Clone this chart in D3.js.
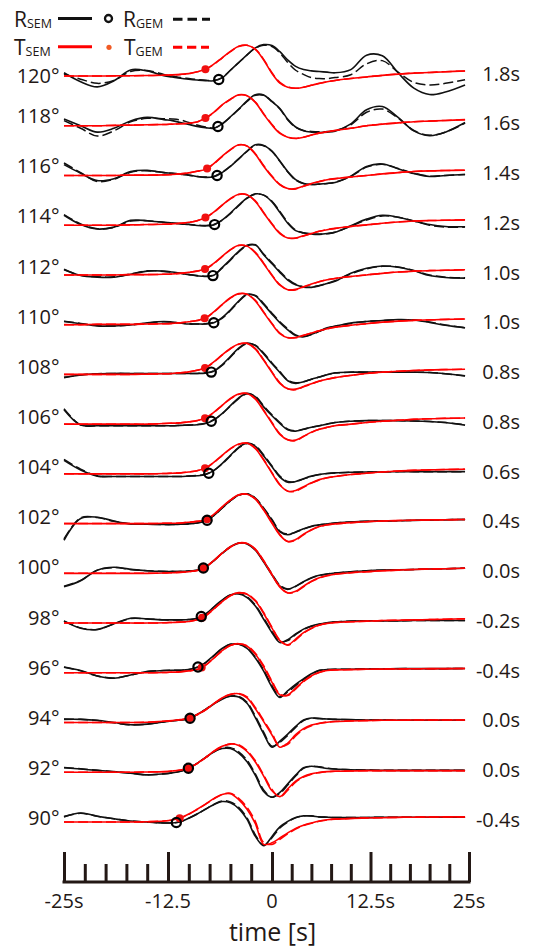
<!DOCTYPE html>
<html><head><meta charset="utf-8">
<script src="https://cdn.jsdelivr.net/npm/d3@7"></script>
<style>
body{margin:0;background:#fff}
svg{display:block}
text{font-family:"Open Sans",sans-serif;fill:#231815}
</style>
</head><body>
<svg id="chart" width="540" height="951"></svg>
<script>
// ---------------- data ----------------
const times = [-25,-23,-21,-19,-17,-15,-13,-12,-11,-10,-9,-8,-7,-6,-5,-4,-3,-2,-1,0,1,2,3,4,5,6,7,8,10,12,14,16,18,20,22,24.5];
const distances = [120,118,116,114,112,110,108,106,104,102,100,98,96,94,92,90];
const shiftLabels = ["1.8s","1.6s","1.4s","1.2s","1.0s","1.0s","0.8s","0.8s","0.6s","0.4s","0.0s","-0.2s","-0.4s","0.0s","0.0s","-0.4s"];
const rOnset = [-6.4,-6.5,-6.6,-6.9,-7.1,-7.0,-7.3,-7.3,-7.6,-7.8,-8.25,-8.5,-8.9,-9.85,-10.05,-11.5];
const tOnset = [-8.0,-8.0,-7.8,-8.0,-8.05,-8.1,-8.05,-8.05,-8.05,-7.8,-8.25,-8.4,-8.45,-9.85,-10.05,-11.1];

const R_SEM = [
[1.0,-1.8,-3.4,-1.5,1.9,1.6,0.1,-0.3,-0.7,-1.0,-1.25,-1.45,-1.5,-0.6,1.8,4.2,6.6,8.8,9.8,9.5,7.6,5.0,3.0,2.0,1.6,1.4,1.2,1.0,2.0,6.5,6.3,1.0,-3.8,-5.8,-5.0,-2.8],
[2.1,0.0,-2.0,-0.8,1.5,2.6,1.9,1.6,1.0,0.4,-0.2,-0.6,-0.8,0.6,2.8,5.2,7.8,9.7,9.6,7.5,5.4,2.0,-0.4,-1.6,-2.0,-2.1,-2.0,-1.7,0.6,5.0,6.0,2.6,-1.6,-3.1,-2.0,1.0],
[3.4,0.7,-1.6,-1.0,1.2,1.6,0.9,0.7,0.4,0.1,-0.3,-0.6,-0.4,0.9,2.8,5.2,7.6,9.6,9.4,7.6,4.5,1.2,-1.3,-2.5,-2.8,-2.7,-2.5,-2.2,-0.2,2.8,3.6,2.1,0.6,-0.3,0.0,0.3],
[3.1,0.2,-1.2,-0.6,1.5,1.4,0.9,0.7,0.4,0.2,-0.1,-0.2,0.1,1.6,3.8,6.3,8.5,9.8,9.4,7.3,4.0,0.6,-1.7,-2.4,-2.7,-2.8,-2.6,-2.2,-0.2,1.9,3.1,2.5,1.3,0.2,-0.4,-0.5],
[1.8,-0.2,-0.7,-0.7,0.2,1.2,1.2,0.9,0.5,0.1,-0.3,-0.5,-0.1,2.3,4.8,7.4,9.3,9.4,6.3,3.5,0.8,-1.6,-3.1,-3.8,-3.9,-3.4,-2.7,-2.0,0.5,2.1,2.8,2.4,1.3,-0.2,-0.8,-1.0],
[1.0,0.3,-0.4,-0.4,-0.1,0.6,1.0,0.8,0.5,0.2,0.2,0.2,0.6,2.2,4.6,7.4,9.5,9.0,6.3,3.3,0.6,-1.6,-3.4,-3.8,-3.0,-2.0,-1.0,-0.5,0.5,1.0,1.3,1.6,1.45,0.7,-0.2,-1.0],
[-1.0,-0.2,0.2,0.3,0.3,0.3,0.3,0.3,0.3,0.3,0.3,0.4,1.0,3.0,5.6,8.2,9.8,9.0,6.4,3.3,0.6,-2.0,-2.8,-2.3,-1.5,-0.8,-0.1,0.5,0.7,0.7,0.7,0.7,0.7,0.6,0.2,-0.5],
[4.5,-0.3,-0.5,-0.5,-0.5,-0.5,-0.5,-0.5,-0.4,-0.3,-0.2,0.2,1.3,3.3,5.8,8.2,9.6,8.5,5.4,2.6,0.2,-1.8,-2.2,-1.6,-1.0,-0.5,0.0,0.5,0.9,1.1,1.1,1.1,1.0,0.8,0.5,-0.3],
[4.2,1.2,-0.7,-0.8,-0.8,-0.8,-0.8,-0.8,-0.8,-0.7,-0.6,-0.2,1.0,3.2,5.8,8.3,9.6,8.6,5.6,2.2,-1.0,-2.6,-2.4,-1.5,-0.7,-0.2,0.1,0.3,0.5,0.6,0.6,0.7,0.7,0.7,0.7,0.7],
[-5.2,1.6,2.0,0.8,-0.1,-0.2,-0.3,-0.3,-0.2,-0.1,0.2,0.8,2.5,4.9,7.2,8.9,9.3,7.8,4.6,1.0,-2.6,-3.5,-2.6,-1.6,-0.8,-0.4,-0.1,0.2,0.5,0.7,0.8,0.9,1.0,1.1,1.2,1.3],
[-4.2,-2.3,1.0,1.9,1.25,0.8,0.6,0.6,0.6,0.7,1.0,2.0,4.0,6.3,8.3,9.5,9.2,7.2,3.5,-0.5,-4.0,-5.0,-4.0,-2.6,-1.4,-0.6,-0.2,0.1,0.5,0.8,1.0,1.1,1.2,1.35,1.45,1.6],
[0.6,-1.6,-2.0,-0.2,1.5,1.3,1.0,1.0,1.0,1.1,1.5,2.8,5.0,7.2,8.8,9.1,8.0,5.3,1.2,-3.0,-6.1,-5.2,-3.4,-1.9,-0.9,-0.3,0.1,0.4,0.6,0.7,0.7,0.7,0.8,0.8,0.8,0.8],
[1.8,0.7,-1.0,-1.7,-0.7,0.4,0.7,0.8,0.8,1.0,1.7,3.2,5.4,7.6,8.9,8.9,7.6,4.6,0.5,-4.5,-7.7,-5.6,-3.6,-1.9,-0.3,0.8,1.0,1.1,1.1,1.2,1.2,1.3,1.3,1.3,1.3,1.35],
[1.0,1.0,0.7,0.0,-0.7,-0.5,0.2,0.5,0.8,1.2,2.5,4.0,5.8,7.3,8.2,8.0,6.0,1.5,-3.5,-7.7,-5.8,-3.6,-1.2,0.8,1.4,1.2,1.1,1.0,0.9,0.8,0.8,0.7,0.7,0.7,0.7,0.7],
[1.4,1.0,0.6,0.2,-0.3,-0.8,-0.5,-0.2,0.3,1.3,2.8,4.6,6.3,7.4,7.4,6.0,3.3,-1.0,-6.0,-7.8,-6.3,-3.6,-0.9,1.4,1.9,1.6,1.2,1.0,0.8,0.7,0.6,0.6,0.6,0.6,0.6,0.6],
[1.6,2.8,1.8,1.0,0.3,0.0,-0.3,-0.3,0.1,1.2,2.5,4.0,5.4,6.4,6.0,4.2,0.8,-4.5,-7.4,-4.5,-1.5,0.2,1.4,1.9,1.9,1.6,1.5,1.4,1.4,1.4,1.5,1.5,1.5,1.5,1.5,1.5]
];

const R_GEM = [
[0.6,-1.0,-2.3,-1.4,1.4,1.7,0.5,0.0,-0.5,-0.8,-1.1,-1.3,-1.4,-0.5,1.8,4.2,6.6,8.7,9.6,9.2,7.2,4.2,1.8,0.5,-0.5,-0.8,-0.8,-0.5,0.4,3.8,4.8,1.2,-2.0,-2.8,-2.3,-1.2],
[1.6,-0.8,-3.2,-1.6,1.2,2.3,2.2,2.1,1.8,1.0,0.2,-0.4,-0.7,0.5,2.7,5.1,7.6,9.5,9.5,7.6,5.2,1.8,-0.5,-1.5,-1.8,-1.9,-1.8,-1.5,0.3,4.2,5.2,2.4,-1.5,-3.0,-2.0,0.8],
[3.9,0.9,-1.9,-1.2,1.0,1.5,0.9,0.7,0.4,0.1,-0.3,-0.5,-0.3,1.0,2.9,5.2,7.5,9.5,9.3,7.5,4.4,1.1,-1.4,-2.5,-2.8,-2.7,-2.5,-2.1,-0.3,2.6,3.5,2.2,0.7,-0.2,0.0,0.3],
[3.3,0.4,-1.1,-0.7,1.3,1.4,0.9,0.7,0.5,0.3,0.0,-0.1,0.2,1.5,3.6,6.1,8.4,9.7,9.4,7.5,4.3,0.9,-1.5,-2.4,-2.8,-2.9,-2.7,-2.2,-0.3,1.6,2.9,2.5,1.3,0.0,-0.6,-0.6],
[1.6,-0.1,-0.6,-0.6,0.3,1.3,1.1,0.8,0.5,0.1,-0.2,-0.4,0.0,2.1,4.6,7.2,9.1,9.3,6.5,3.8,1.1,-1.3,-2.9,-3.7,-3.8,-3.3,-2.6,-1.8,0.3,1.9,2.7,2.5,1.4,0.0,-0.7,-0.9],
[1.1,0.4,-0.3,-0.4,-0.1,0.5,0.9,0.8,0.5,0.3,0.2,0.3,0.7,2.0,4.4,7.2,9.3,9.1,6.6,3.6,0.9,-1.3,-3.2,-3.7,-3.1,-2.1,-1.1,-0.5,0.4,1.0,1.3,1.5,1.5,0.8,-0.1,-0.9],
[-0.9,-0.2,0.2,0.3,0.3,0.3,0.3,0.3,0.3,0.3,0.3,0.5,1.1,2.8,5.4,8.0,9.6,9.1,6.7,3.6,0.9,-1.8,-2.6,-2.3,-1.5,-0.8,-0.1,0.4,0.7,0.7,0.7,0.7,0.7,0.6,0.2,-0.4],
[4.8,-0.2,-0.5,-0.5,-0.5,-0.5,-0.5,-0.5,-0.4,-0.3,-0.1,0.3,1.4,3.2,5.6,8.0,9.5,8.7,5.7,2.9,0.5,-1.6,-2.1,-1.6,-1.0,-0.5,0.0,0.5,0.9,1.1,1.1,1.1,1.0,0.8,0.5,-0.2],
[4.5,1.5,-0.6,-0.8,-0.8,-0.8,-0.8,-0.8,-0.8,-0.7,-0.5,-0.1,1.1,3.1,5.6,8.1,9.5,8.8,5.9,2.5,-0.7,-2.4,-2.4,-1.6,-0.8,-0.2,0.1,0.3,0.5,0.6,0.6,0.7,0.7,0.7,0.7,0.7],
[-4.8,1.8,1.9,0.7,-0.1,-0.2,-0.3,-0.3,-0.2,-0.1,0.2,0.9,2.5,4.8,7.1,8.8,9.3,8.0,4.9,1.3,-2.3,-3.3,-2.7,-1.7,-0.9,-0.4,-0.1,0.2,0.5,0.7,0.8,0.9,1.0,1.1,1.2,1.3],
[-4.0,-2.2,1.0,1.8,1.2,0.8,0.6,0.6,0.6,0.7,1.0,2.0,3.9,6.2,8.2,9.4,9.3,7.4,3.8,-0.2,-3.7,-4.9,-4.1,-2.7,-1.5,-0.7,-0.2,0.1,0.5,0.8,1.0,1.1,1.2,1.35,1.45,1.6],
[0.7,-1.5,-2.0,-0.3,1.4,1.3,1.0,1.0,1.0,1.1,1.5,2.8,4.9,7.1,8.8,9.2,8.2,5.6,1.6,-2.6,-5.8,-5.5,-3.6,-2.0,-1.0,-0.4,0.0,0.3,0.6,0.7,0.7,0.7,0.8,0.8,0.8,0.8],
[1.7,0.6,-1.0,-1.6,-0.7,0.4,0.7,0.8,0.8,1.0,1.7,3.1,5.3,7.5,8.9,9.0,7.8,4.9,0.9,-4.0,-7.4,-6.0,-4.0,-2.1,-0.5,0.7,1.0,1.1,1.1,1.2,1.2,1.3,1.3,1.3,1.3,1.35],
[1.1,1.0,0.6,-0.1,-0.7,-0.5,0.2,0.5,0.8,1.2,2.5,4.1,5.9,7.4,8.3,8.2,6.3,2.0,-3.0,-7.4,-6.2,-4.0,-1.5,0.6,1.4,1.3,1.1,1.0,0.9,0.8,0.8,0.7,0.7,0.7,0.7,0.7],
[1.5,1.1,0.6,0.2,-0.3,-0.8,-0.5,-0.2,0.3,1.3,2.8,4.6,6.4,7.6,7.7,6.4,3.8,-0.5,-5.5,-7.8,-6.6,-4.0,-1.2,1.2,1.9,1.7,1.3,1.0,0.8,0.7,0.6,0.6,0.6,0.6,0.6,0.6],
[1.7,2.7,1.8,1.0,0.3,0.0,-0.3,-0.3,0.1,1.2,2.5,4.0,5.5,6.6,6.3,4.6,1.3,-4.0,-7.3,-4.9,-1.9,0.0,1.3,1.9,1.9,1.6,1.5,1.4,1.4,1.4,1.5,1.5,1.5,1.5,1.5,1.5]
];

const T_SEM = [
[0,0,0,0.05,0.1,0.15,0.25,0.35,0.5,0.75,1.3,2.1,3.7,5.7,7.7,9.3,9.6,8.3,5.0,0.8,-2.2,-3.5,-3.85,-3.5,-2.9,-2.3,-1.8,-1.4,-0.8,-0.3,0.2,0.6,0.9,1.1,1.35,1.55],
[0,0,0,0.1,0.2,0.3,0.4,0.5,0.6,0.8,1.2,2.4,4.2,6.5,8.3,9.7,9.4,7.3,3.6,0.2,-2.4,-3.6,-4.0,-3.6,-2.9,-2.3,-1.9,-1.5,-0.8,0.0,0.5,0.9,1.25,1.45,1.65,1.9],
[0,0,0,0,0.1,0.1,0.2,0.3,0.5,0.8,1.3,1.9,3.7,6.0,8.1,9.6,9.2,6.6,2.9,-0.4,-2.9,-4.1,-4.1,-3.3,-2.5,-1.9,-1.35,-1.0,-0.5,0.0,0.5,0.9,1.25,1.45,1.55,1.65],
[0,0,0,0,0.1,0.2,0.3,0.4,0.6,0.9,1.4,2.4,4.1,6.3,8.3,9.7,9.5,7.4,3.8,0.3,-2.6,-4.0,-4.0,-3.3,-2.6,-1.9,-1.4,-1.0,-0.4,0.1,0.6,1.0,1.3,1.45,1.55,1.65],
[0,0,0,0,0.1,0.1,0.2,0.3,0.5,0.8,1.2,1.9,3.6,5.8,7.9,9.3,9.0,6.9,3.5,-0.2,-3.2,-4.6,-4.5,-3.7,-2.8,-2.1,-1.5,-1.1,-0.5,0.0,0.5,0.9,1.2,1.35,1.45,1.6],
[0,0,0.1,0.1,0.1,0.2,0.3,0.4,0.6,0.9,1.3,2.1,4.0,6.3,8.4,9.7,9.5,7.4,3.8,0.2,-2.8,-4.1,-4.0,-3.3,-2.6,-1.9,-1.3,-0.8,-0.2,0.3,0.8,1.1,1.35,1.5,1.65,1.75],
[0,0,0,0,0,0.1,0.2,0.3,0.5,0.8,1.3,2.1,3.9,6.1,8.1,9.5,9.7,7.9,4.4,0.6,-2.8,-4.5,-4.6,-3.8,-2.9,-2.1,-1.5,-1.0,-0.3,0.3,0.7,1.0,1.2,1.4,1.5,1.6],
[0,0,0,0,0,0,0.2,0.3,0.4,0.7,1.1,1.9,3.7,5.9,8.0,9.4,9.6,7.8,4.2,0.3,-3.2,-4.9,-5.0,-3.8,-2.5,-1.6,-1.0,-0.5,0.0,0.5,0.9,1.2,1.5,1.7,1.8,1.9],
[0,0,0,0,0,0,0.1,0.2,0.3,0.6,1.0,1.8,3.6,5.8,7.9,9.3,9.6,7.9,4.3,0.2,-3.5,-5.4,-5.2,-4.0,-2.8,-1.8,-1.2,-0.8,-0.2,0.2,0.6,0.9,1.1,1.25,1.35,1.45],
[0,0,0,0,0,0,0.1,0.1,0.2,0.4,0.7,1.1,2.9,5.2,7.4,9.0,9.2,7.6,4.2,0.1,-3.6,-5.6,-5.0,-3.3,-1.9,-0.9,-0.4,-0.1,0.3,0.6,0.8,0.95,1.05,1.15,1.2,1.3],
[0,0,0,0,0,0,0.1,0.2,0.3,0.5,0.9,2.0,4.0,6.3,8.3,9.5,9.3,7.4,3.8,-0.5,-4.3,-6.1,-5.6,-4.0,-2.5,-1.4,-0.7,-0.3,0.2,0.5,0.8,1.0,1.2,1.35,1.45,1.6],
[0,0,0,0,0,0,0.1,0.2,0.3,0.5,1.0,2.3,4.4,6.7,8.6,9.5,9.0,6.9,3.0,-1.6,-5.5,-6.8,-5.0,-3.0,-1.6,-0.6,-0.1,0.2,0.4,0.6,0.8,0.9,1.0,1.1,1.2,1.35],
[0,0,0,0,0,0,0.1,0.2,0.3,0.6,1.0,2.4,4.6,6.9,8.6,9.1,8.3,5.8,1.8,-3.0,-6.9,-6.9,-4.8,-2.6,-0.9,0.2,0.7,0.9,1.0,1.1,1.15,1.2,1.25,1.3,1.3,1.35],
[0,0,0,0,0,0.1,0.4,0.6,0.9,1.3,2.5,4.0,5.9,7.7,8.8,9.0,7.7,4.3,0.3,-3.9,-7.7,-6.4,-3.8,-1.9,-0.8,-0.2,0.1,0.3,0.5,0.6,0.7,0.7,0.8,0.8,0.8,0.8],
[0,0,0,0,0,0.1,0.2,0.4,0.7,1.3,2.8,4.6,6.6,8.1,8.8,8.4,6.5,3.2,-1.2,-5.8,-7.6,-5.2,-2.8,-1.3,-0.5,-0.1,0.2,0.3,0.4,0.5,0.5,0.5,0.5,0.5,0.5,0.5],
[0,0,0,0,0,0.1,0.3,0.6,1.3,2.5,4.0,5.6,7.3,8.6,8.8,7.0,4.0,-0.5,-7.0,-6.5,-5.0,-3.4,-2.0,-1.0,-0.3,0.3,0.7,0.9,1.1,1.25,1.35,1.45,1.5,1.55,1.6,1.6]
];

const T_GEM = [
[0,0,0,0.05,0.1,0.15,0.25,0.35,0.5,0.75,1.3,2.0,3.6,5.6,7.6,9.2,9.6,8.4,5.2,1.0,-2.0,-3.4,-3.8,-3.5,-2.9,-2.3,-1.8,-1.4,-0.8,-0.3,0.2,0.6,0.9,1.1,1.35,1.55],
[0,0,0,0.1,0.2,0.3,0.4,0.5,0.6,0.8,1.2,2.3,4.1,6.4,8.2,9.6,9.4,7.4,3.8,0.4,-2.2,-3.5,-3.95,-3.6,-2.9,-2.3,-1.9,-1.5,-0.8,0.0,0.5,0.9,1.25,1.45,1.65,1.9],
[0,0,0,0,0.1,0.1,0.2,0.3,0.5,0.8,1.3,1.9,3.6,5.9,8.0,9.5,9.2,6.8,3.1,-0.2,-2.8,-4.1,-4.2,-3.4,-2.6,-1.9,-1.35,-1.0,-0.5,0.0,0.5,0.9,1.25,1.45,1.55,1.65],
[0,0,0,0,0.1,0.2,0.3,0.4,0.6,0.9,1.4,2.3,4.0,6.2,8.2,9.6,9.5,7.6,4.0,0.5,-2.4,-3.9,-4.1,-3.4,-2.6,-1.9,-1.4,-1.0,-0.4,0.1,0.6,1.0,1.3,1.45,1.55,1.65],
[0,0,0,0,0.1,0.1,0.2,0.3,0.5,0.8,1.2,1.8,3.5,5.7,7.8,9.2,9.0,7.1,3.7,0.0,-3.0,-4.6,-4.7,-3.8,-2.9,-2.1,-1.5,-1.1,-0.5,0.0,0.5,0.9,1.2,1.35,1.45,1.6],
[0,0,0.1,0.1,0.1,0.2,0.3,0.4,0.6,0.9,1.3,2.0,3.9,6.2,8.3,9.6,9.5,7.6,4.0,0.4,-2.6,-4.0,-4.1,-3.4,-2.6,-1.9,-1.3,-0.8,-0.2,0.3,0.8,1.1,1.35,1.5,1.65,1.75],
[0,0,0,0,0,0.1,0.2,0.3,0.5,0.8,1.3,2.0,3.8,6.0,8.0,9.4,9.7,8.1,4.6,0.8,-2.6,-4.5,-4.8,-3.9,-3.0,-2.1,-1.5,-1.0,-0.3,0.3,0.7,1.0,1.2,1.4,1.5,1.6],
[0,0,0,0,0,0,0.2,0.3,0.4,0.7,1.1,1.8,3.6,5.8,7.9,9.3,9.6,8.0,4.4,0.5,-3.0,-4.9,-5.2,-3.9,-2.6,-1.6,-1.0,-0.5,0.0,0.5,0.9,1.2,1.5,1.7,1.8,1.9],
[0,0,0,0,0,0,0.1,0.2,0.3,0.6,1.0,1.7,3.5,5.7,7.8,9.2,9.6,8.1,4.5,0.4,-3.3,-5.4,-5.4,-4.2,-2.9,-1.9,-1.2,-0.8,-0.2,0.2,0.6,0.9,1.1,1.25,1.35,1.45],
[0,0,0,0,0,0,0.1,0.1,0.2,0.4,0.7,1.1,2.8,5.1,7.3,8.9,9.2,7.8,4.4,0.3,-3.4,-5.6,-5.2,-3.5,-2.0,-1.0,-0.4,-0.1,0.3,0.6,0.8,0.95,1.05,1.15,1.2,1.3],
[0,0,0,0,0,0,0.1,0.2,0.3,0.5,0.9,1.9,3.9,6.2,8.2,9.4,9.3,7.6,4.0,-0.3,-4.1,-6.1,-5.8,-4.2,-2.6,-1.5,-0.8,-0.3,0.2,0.5,0.8,1.0,1.2,1.35,1.45,1.6],
[0,0,0,0,0,0,0.1,0.2,0.3,0.5,1.0,2.2,4.3,6.6,8.5,9.4,9.1,7.1,3.3,-1.3,-5.3,-6.9,-5.3,-3.2,-1.7,-0.7,-0.1,0.2,0.4,0.6,0.8,0.9,1.0,1.1,1.2,1.35],
[0,0,0,0,0,0,0.1,0.2,0.3,0.6,1.0,2.3,4.5,6.8,8.5,9.1,8.5,6.1,2.2,-2.6,-6.6,-7.1,-5.1,-2.8,-1.1,0.1,0.7,0.9,1.0,1.1,1.15,1.2,1.25,1.3,1.3,1.35],
[0,0,0,0,0,0.1,0.4,0.6,0.9,1.3,2.4,3.9,5.8,7.6,8.8,9.1,8.0,4.7,0.7,-3.4,-7.4,-6.8,-4.2,-2.2,-1.0,-0.3,0.1,0.3,0.5,0.6,0.7,0.7,0.8,0.8,0.8,0.8],
[0,0,0,0,0,0.1,0.2,0.4,0.7,1.3,2.7,4.5,6.5,8.0,8.9,8.6,6.8,3.6,-0.8,-5.4,-7.7,-5.6,-3.1,-1.5,-0.6,-0.1,0.2,0.3,0.4,0.5,0.5,0.5,0.5,0.5,0.5,0.5],
[0,0,0,0,0,0.1,0.3,0.6,1.3,2.4,3.9,5.5,7.2,8.6,9.0,7.4,4.6,0.2,-6.4,-7.0,-5.4,-3.7,-2.2,-1.1,-0.4,0.2,0.6,0.9,1.1,1.25,1.35,1.45,1.5,1.55,1.6,1.6]
];

const majorTicks = [-25,-12.5,0,12.5,25];
const majorTickLabels = ["-25s","-12.5","0","12.5s","25s"];
const minorTicks = [-22.5,-20,-17.5,-15,-10,-7.5,-5,-2.5,2.5,5,7.5,10,15,17.5,20,22.5];
const axisTitle = "time [s]";

// ---------------- scales ----------------
const svg = d3.select("#chart");
const x = d3.scaleLinear().domain([-25,0,25]).range([64,272,469]);
const yRow = d3.scaleLinear().domain([120,90]).range([76,822]);
const yLabel = d3.scaleLinear().domain([118,90]).range([116,818]);
const amp = d3.scaleLinear().domain([0,10]).range([0,32]);

const RED = "#ff0000", BLACK = "#111111", INK = "#231815";

function lineGen(row){
  const base = yRow(distances[row]);
  return d3.line()
    .x((d,j)=>x(times[j]))
    .y(d=>base - amp(d))
    .curve(d3.curveCatmullRom.alpha(0.5));
}

const gTraces = svg.append("g");
const solidR = [], solidT = [];
distances.forEach((deg,i)=>{
  const g = gTraces.append("g");
  const lg = lineGen(i);
  g.append("path").attr("d",lg(R_GEM[i])).attr("fill","none").attr("stroke",BLACK)
    .attr("stroke-width",1.5).attr("stroke-dasharray","10,4");
  solidR[i] = g.append("path").attr("d",lg(R_SEM[i])).attr("fill","none").attr("stroke",BLACK)
    .attr("stroke-width",1.6).node();
  g.append("path").attr("d",lg(T_GEM[i])).attr("fill","none").attr("stroke",RED)
    .attr("stroke-width",1.5).attr("stroke-dasharray","10,4");
  solidT[i] = g.append("path").attr("d",lg(T_SEM[i])).attr("fill","none").attr("stroke",RED)
    .attr("stroke-width",1.6).node();
});

function yAtX(node, px){
  let lo = 0, hi = node.getTotalLength();
  for (let k=0;k<40;k++){
    const mid=(lo+hi)/2;
    if (node.getPointAtLength(mid).x < px) lo = mid; else hi = mid;
  }
  return node.getPointAtLength((lo+hi)/2).y;
}

const gMarks = svg.append("g");
distances.forEach((deg,i)=>{
  const tx = x(tOnset[i]);
  gMarks.append("circle").attr("cx",tx).attr("cy",yAtX(solidT[i],tx)).attr("r",4)
    .attr("fill","#f01010");
});
distances.forEach((deg,i)=>{
  const rx = x(rOnset[i]);
  gMarks.append("circle").attr("cx",rx).attr("cy",yAtX(solidR[i],rx)).attr("r",4.6)
    .attr("fill","none").attr("stroke","#000").attr("stroke-width",2.2);
});

// side labels
svg.append("g").selectAll("text").data(distances).join("text")
  .attr("x",59.5)
  .attr("y",d=> (d===120 ? yRow(d) : yLabel(d)) + 7.2)
  .attr("text-anchor","end").attr("font-size",20)
  .text(d=>d+"°");

svg.append("g").selectAll("text").data(shiftLabels).join("text")
  .attr("x",520)
  .attr("y",(d,i)=> yRow(distances[i]) - 2.5 + 7.2)
  .attr("text-anchor","end").attr("font-size",20)
  .text(d=>d);

// axis
const axisY = 882;
const gMaj = svg.append("g").attr("transform",`translate(0,${axisY})`)
  .call(d3.axisTop(x).tickValues(majorTicks).tickSize(30).tickSizeOuter(0).tickFormat(""));
const gMin = svg.append("g").attr("transform",`translate(0,${axisY})`)
  .call(d3.axisTop(x).tickValues(minorTicks).tickSize(18).tickSizeOuter(0).tickFormat(""));
[gMaj,gMin].forEach(g=>{
  g.select(".domain").remove();
  g.selectAll(".tick line").attr("stroke",INK).attr("stroke-width",3);
  g.selectAll(".tick text").remove();
});
svg.append("line").attr("x1",x(-25)-1.5).attr("x2",x(25)+1.5).attr("y1",axisY).attr("y2",axisY)
  .attr("stroke",INK).attr("stroke-width",3);

svg.append("g").selectAll("text").data(majorTicks).join("text")
  .attr("x",d=>x(d)).attr("y",908).attr("text-anchor","middle").attr("font-size",20)
  .text((d,i)=>majorTickLabels[i]);

svg.append("text").attr("x",272.5).attr("y",941).attr("text-anchor","middle")
  .attr("font-size",25).text(axisTitle);

// legend
const leg = svg.append("g");
function legLabel(px, py, main, sub){
  const t = leg.append("text").attr("x",px).attr("y",py).attr("font-size",21).attr("fill","#111");
  t.append("tspan").text(main);
  t.append("tspan").attr("font-size",12.5).attr("dy",1).text(sub);
}
legLabel(14,27,"R","SEM");
legLabel(123,27,"R","GEM");
legLabel(14,55,"T","SEM");
legLabel(124,55,"T","GEM");
leg.append("line").attr("x1",58).attr("x2",92).attr("y1",18.5).attr("y2",18.5).attr("stroke","#111").attr("stroke-width",3);
leg.append("circle").attr("cx",108.5).attr("cy",18.5).attr("r",3.5).attr("fill","none").attr("stroke","#111").attr("stroke-width",2.3);
leg.append("line").attr("x1",173).attr("x2",210).attr("y1",19.3).attr("y2",19.3).attr("stroke","#111").attr("stroke-width",3).attr("stroke-dasharray","9.5,5");
leg.append("line").attr("x1",58).attr("x2",92).attr("y1",46.7).attr("y2",46.7).attr("stroke",RED).attr("stroke-width",3);
leg.append("circle").attr("cx",109).attr("cy",47.3).attr("r",2.6).attr("fill","#f15a24");
leg.append("line").attr("x1",173).attr("x2",209).attr("y1",47.3).attr("y2",47.3).attr("stroke",RED).attr("stroke-width",3).attr("stroke-dasharray","9.3,4.7");
</script>
</body></html>
